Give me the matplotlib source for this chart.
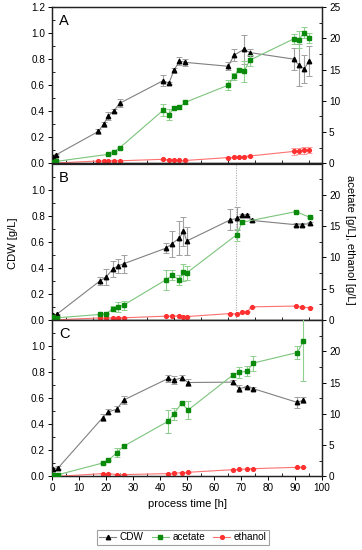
import matplotlib
matplotlib.use("Agg")
import matplotlib.pyplot as plt
from matplotlib.ticker import MultipleLocator, FixedLocator
from matplotlib.lines import Line2D

plt.rcParams['font.family'] = ['Liberation Sans', 'DejaVu Sans']

# ---------------- data ----------------
# Panel A
A_t_cdw = [0.2, 1.5, 17.2, 19.1, 20.9, 23.0, 25.0, 41.2, 43.3, 45.2, 47.2, 49.3, 65.3, 67.4, 71.1, 73.3, 89.5, 91.4, 93.4, 95.2]
A_cdw = [0.05, 0.065, 0.245, 0.30, 0.365, 0.405, 0.46, 0.635, 0.615, 0.715, 0.785, 0.775, 0.745, 0.83, 0.875, 0.85, 0.80, 0.755, 0.725, 0.785]
A_cdw_err = [0.01, 0.01, 0.02, 0.02, 0.03, 0.01, 0.03, 0.045, 0.01, 0.02, 0.03, 0.025, 0.03, 0.045, 0.11, 0.03, 0.085, 0.16, 0.105, 0.115]
A_t_ac = [0.2, 1.5, 20.9, 23.0, 25.0, 41.2, 43.3, 45.2, 47.2, 49.3, 65.3, 67.4, 69.2, 71.1, 73.3, 89.5, 91.4, 93.4, 95.2]
A_ac = [0.27, 0.3, 1.44, 1.87, 2.45, 8.5, 7.8, 8.9, 8.95, 9.75, 12.5, 13.9, 15.0, 14.7, 16.5, 19.9, 19.8, 20.9, 20.1]
A_ac_err = [0.1, 0.1, 0.1, 0.15, 0.15, 1.0, 0.9, 0.2, 0.2, 0.2, 0.8, 0.6, 0.3, 1.7, 0.9, 0.8, 1.4, 0.9, 0.8]
A_t_et = [0.2, 1.5, 17.2, 19.1, 20.9, 23.0, 25.0, 41.2, 43.3, 45.2, 47.2, 49.3, 65.3, 67.4, 69.2, 71.1, 73.3, 89.5, 91.4, 93.4, 95.2]
A_et = [0.0, 0.05, 0.37, 0.38, 0.40, 0.40, 0.40, 0.64, 0.55, 0.50, 0.45, 0.45, 0.92, 0.97, 1.0, 1.07, 1.17, 1.9, 2.0, 2.05, 2.1]
A_et_err = [0.05, 0.05, 0.05, 0.05, 0.05, 0.05, 0.05, 0.05, 0.05, 0.05, 0.05, 0.05, 0.1, 0.1, 0.1, 0.1, 0.1, 0.5, 0.5, 0.5, 0.5]

# Panel B
B_t_cdw = [0.2, 1.8, 17.6, 20.1, 22.5, 24.4, 26.5, 42.2, 44.5, 47.2, 48.7, 49.9, 66.1, 68.4, 70.4, 72.3, 74.0, 90.3, 92.7, 95.5]
B_cdw = [0.036, 0.043, 0.296, 0.33, 0.39, 0.413, 0.43, 0.55, 0.585, 0.628, 0.68, 0.605, 0.768, 0.778, 0.804, 0.804, 0.763, 0.73, 0.73, 0.74]
B_cdw_err = [0.005, 0.005, 0.03, 0.06, 0.06, 0.055, 0.07, 0.04, 0.1, 0.13, 0.11, 0.11, 0.08, 0.09, 0.01, 0.01, 0.01, 0.01, 0.01, 0.01]
B_t_ac = [0.2, 1.8, 17.6, 20.1, 22.5, 24.4, 26.5, 42.2, 44.5, 47.2, 48.7, 49.9, 68.4, 70.4, 90.3, 95.5]
B_ac = [0.37, 0.32, 0.85, 1.0, 1.75, 2.07, 2.34, 6.4, 7.1, 6.4, 7.6, 7.5, 13.6, 15.6, 17.3, 16.4]
B_ac_err = [0.1, 0.1, 0.1, 0.15, 0.4, 0.8, 0.7, 1.6, 0.8, 0.8, 1.4, 1.1, 1.0, 0.3, 0.1, 0.1]
B_t_et = B_t_cdw
B_et = [0.05, 0.0, 0.3, 0.3, 0.3, 0.32, 0.32, 0.58, 0.62, 0.62, 0.52, 0.52, 1.0, 0.9, 1.2, 1.3, 2.07, 2.2, 2.0, 1.96]
B_et_err = [0.05] * 20

# Panel C
C_t = [0.2, 2.4, 18.8, 20.9, 24.0, 26.5, 43.0, 45.2, 48.0, 50.4, 67.0, 69.4, 72.3, 74.4, 90.9, 93.1]
C_cdw = [0.056, 0.067, 0.451, 0.495, 0.515, 0.585, 0.751, 0.738, 0.756, 0.72, 0.723, 0.674, 0.687, 0.674, 0.567, 0.585]
C_cdw_err = [0.01, 0.01, 0.025, 0.02, 0.025, 0.03, 0.025, 0.03, 0.02, 0.025, 0.015, 0.03, 0.01, 0.015, 0.04, 0.02]
C_ac = [0.2, 0.27, 2.13, 2.55, 3.78, 4.8, 8.8, 10.0, 11.7, 10.6, 16.2, 16.65, 16.8, 18.1, 19.8, 21.6]
C_ac_err = [0.1, 0.1, 0.1, 0.1, 0.7, 0.2, 1.8, 1.0, 0.2, 1.4, 0.3, 0.9, 0.8, 1.2, 1.0, 6.3]
C_et = [0.1, 0.0, 0.43, 0.43, 0.27, 0.27, 0.43, 0.48, 0.59, 0.64, 1.06, 1.12, 1.17, 1.22, 1.44, 1.49]
C_et_err = [0.05] * 16

panels = [
    ("A", A_t_cdw, A_cdw, A_cdw_err, A_t_ac, A_ac, A_ac_err, A_t_et, A_et, A_et_err),
    ("B", B_t_cdw, B_cdw, B_cdw_err, B_t_ac, B_ac, B_ac_err, B_t_et, B_et, B_et_err),
    ("C", C_t, C_cdw, C_cdw_err, C_t, C_ac, C_ac_err, C_t, C_et, C_et_err),
]
marker_line_time = 68.0
x_ticks = [0, 10, 20, 30, 40, 50, 60, 70, 80, 90, 100]

# ---------------- style ----------------
W, H = 362, 550
fig = plt.figure(figsize=(W / 100, H / 100), dpi=100)

left, right = 52 / W, 322 / W
tops_px = [7, 163.5, 320]
ph = 156.3

cdw_line = '#808080'
cdw_mark = 'black'
cdw_err = '#a0a0a0'
ac_line = '#7cc47c'
ac_mark = '#0a8a0a'
ac_err = '#8fd08f'
et_line = '#ff7070'
et_mark = '#ff3030'
et_err = '#ff9a9a'

fs_tick = 7.2
ms = 2.7

def style_axis(a):
    a.tick_params(which='major', direction='out', length=3, width=0.7, labelsize=fs_tick, pad=2)
    a.tick_params(which='minor', direction='in', length=2, width=0.6)
    for s in a.spines.values():
        s.set_linewidth(0.9)
        s.set_color('#222222')

for i, (lab, tc, cdw, cdwe, ta, ac, ace, te, et, ete) in enumerate(panels):
    bottom = 1 - (tops_px[i] + ph) / H
    ax = fig.add_axes([left, bottom, right - left, ph / H])
    ax2 = ax.twinx()
    ax.set_xlim(0, 100)
    ax.set_ylim(0, 1.2)
    ax2.set_ylim(0, 25)

    ax.errorbar(tc, cdw, yerr=cdwe, color=cdw_line, lw=0.8, marker='^', ms=ms + 0.5,
                mfc=cdw_mark, mec=cdw_mark, ecolor=cdw_err, elinewidth=0.8,
                capsize=2.2, capthick=0.7, zorder=3)
    ax2.errorbar(ta, ac, yerr=ace, color=ac_line, lw=0.8, marker='s', ms=ms,
                 mfc=ac_mark, mec=ac_mark, ecolor=ac_err, elinewidth=0.8,
                 capsize=2.2, capthick=0.7, zorder=3)
    ax2.errorbar(te, et, yerr=ete, color=et_line, lw=0.8, marker='o', ms=ms,
                 mfc=et_mark, mec=et_mark, ecolor=et_err, elinewidth=0.8,
                 capsize=2.2, capthick=0.7, zorder=2)

    if lab == "B":
        ax.axvline(marker_line_time, color='#aaaaaa', lw=0.8, ls=(0, (1, 1.2)), zorder=1)

    ax.xaxis.set_major_locator(FixedLocator(x_ticks))
    ax.xaxis.set_minor_locator(MultipleLocator(5))
    if lab == "A":
        ax.yaxis.set_major_locator(FixedLocator([0, 0.2, 0.4, 0.6, 0.8, 1.0, 1.2]))
        ax2.yaxis.set_major_locator(FixedLocator([0, 5, 10, 15, 20, 25]))
    else:
        ax.yaxis.set_major_locator(FixedLocator([0, 0.2, 0.4, 0.6, 0.8, 1.0]))
        ax2.yaxis.set_major_locator(FixedLocator([0, 5, 10, 15, 20]))
    ax.yaxis.set_minor_locator(MultipleLocator(0.1))
    ax2.yaxis.set_minor_locator(MultipleLocator(2.5))
    ax.yaxis.set_major_formatter(matplotlib.ticker.FormatStrFormatter('%.1f'))
    style_axis(ax)
    style_axis(ax2)
    if lab != "C":
        ax.tick_params(axis='x', labelbottom=False)
    ax2.tick_params(axis='x', labelbottom=False)

    ax.text(0.025, 0.955, lab, transform=ax.transAxes, fontsize=10.5,
            ha='left', va='top', zorder=5)

    if lab == "C":
        ax.set_xlabel("process time [h]", fontsize=8, labelpad=4)

fig.text(13 / W, 1 - 243 / H, "CDW [g/L]", rotation=90, fontsize=8,
         ha='center', va='center')
fig.text(350 / W, 1 - 240 / H, "acetate [g/L], ethanol [g/L]", rotation=270,
         fontsize=8, ha='center', va='center')

handles = [
    Line2D([], [], color=cdw_line, lw=0.8, marker='^', ms=ms + 0.5, mfc=cdw_mark, mec=cdw_mark),
    Line2D([], [], color=ac_line, lw=0.8, marker='s', ms=ms, mfc=ac_mark, mec=ac_mark),
    Line2D([], [], color=et_line, lw=0.8, marker='o', ms=ms, mfc=et_mark, mec=et_mark),
]
leg = fig.legend(handles, ["CDW", "acetate", "ethanol"], loc='center',
                 bbox_to_anchor=(183 / W, 1 - 537 / H), ncol=3, fontsize=7.2,
                 frameon=True, fancybox=False, edgecolor='#888888',
                 handlelength=1.7, handletextpad=0.35, columnspacing=0.8,
                 borderpad=0.25)
leg.get_frame().set_linewidth(0.8)

fig.savefig("out.png", dpi=100)
